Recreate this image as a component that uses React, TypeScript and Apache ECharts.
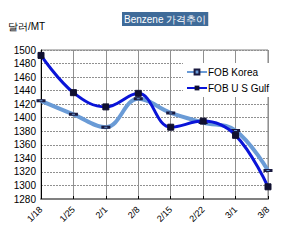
import React, { useEffect, useRef } from "react";
import * as echarts from "echarts";

const categories = ["1/18", "1/25", "2/1", "2/8", "2/15", "2/22", "3/1", "3/8"];
const fobKorea = [1425, 1405, 1386, 1428, 1407, 1393, 1381, 1322];
const fobUsGulf = [1492, 1437, 1416, 1436, 1386, 1395, 1374, 1298];
const yMin = 1280;
const yMax = 1500;
const yStep = 20;

export default function App() {
  const ref = useRef<HTMLDivElement>(null);
  useEffect(() => {
    if (!ref.current) return;
    const chart = echarts.init(ref.current, undefined, { renderer: "svg" });
    const font = "Liberation Sans Narrow, Arial Narrow, Liberation Sans, sans-serif";
    chart.setOption({
      animation: false,
      backgroundColor: "#ffffff",
      title: {
        text: "Benzene 가격추이",
        left: 122,
        top: 12,
        padding: [2, 2, 2, 2],
        backgroundColor: "#3f6b99",
        textStyle: { color: "#ffffff", fontSize: 10, fontWeight: "normal", fontFamily: font },
      },
      graphic: [
        {
          type: "text",
          left: 8,
          top: 21,
          style: { text: "달러/MT", fontSize: 10, fill: "#000", fontFamily: font },
        },
      ],
      legend: {
        orient: "vertical",
        left: 183,
        top: 63,
        itemGap: 6,
        itemWidth: 20,
        itemHeight: 6,
        padding: [4, 8, 4, 3],
        backgroundColor: "#ffffff",
        textStyle: { fontSize: 10, color: "#000", fontFamily: font, padding: [0, 0, 0, -4] },
        data: ["FOB Korea", "FOB U S Gulf"],
      },
      grid: { left: 41, top: 50, right: 35, bottom: 49, show: true, borderColor: "#808080", borderWidth: 1 },
      xAxis: {
        type: "category",
        data: categories,
        boundaryGap: false,
        axisLine: { show: true, lineStyle: { color: "#808080", width: 2 } },
        axisTick: { show: true, inside: true, length: 3, lineStyle: { color: "#000" } },
        axisLabel: { rotate: 45, fontSize: 9, color: "#000", fontFamily: font, margin: 9 },
        splitLine: { show: true, lineStyle: { color: "#909090", width: 1 } },
      },
      yAxis: {
        type: "value",
        min: yMin,
        max: yMax,
        interval: yStep,
        axisLine: { show: true, lineStyle: { color: "#000", width: 1 } },
        axisTick: { show: false },
        axisLabel: { fontSize: 10, color: "#000", fontFamily: font, margin: 5, formatter: (v: number) => String(v) },
        splitLine: { show: true, lineStyle: { color: "#909090", type: [2, 1], width: 1 } },
      },
      series: [
        {
          name: "FOB Korea",
          type: "line",
          data: fobKorea,
          smooth: 0.4,
          z: 2,
          lineStyle: { color: "#6a9bd6", width: 4 },
          itemStyle: { color: "#6a9bd6", borderColor: "#1a1a40", borderWidth: 1 },
          symbol: "rect",
          symbolSize: [6, 2],
        },
        {
          name: "FOB U S Gulf",
          type: "line",
          data: fobUsGulf,
          smooth: 0.4,
          z: 3,
          lineStyle: { color: "#0a14d8", width: 3 },
          itemStyle: { color: "#101030", borderColor: "#101030" },
          symbol: "rect",
          symbolSize: 6,
        },
      ],
    });
    return () => chart.dispose();
  }, []);
  return <div ref={ref} style={{ width: 303, height: 248, position: "absolute", left: 0, top: 0 }} />;
}
